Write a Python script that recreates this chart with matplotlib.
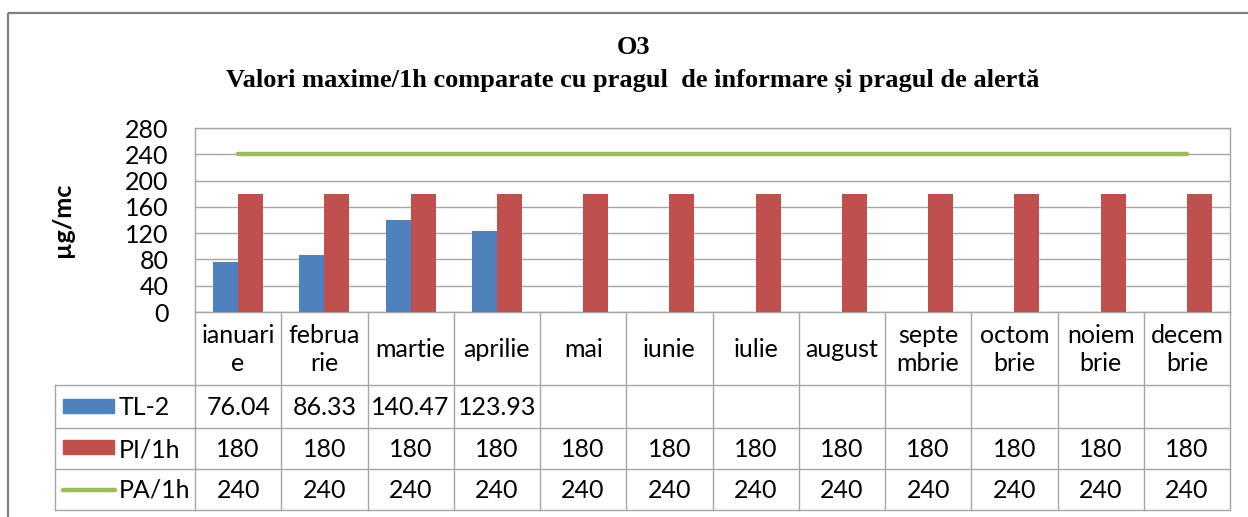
import matplotlib.pyplot as plt
import matplotlib.transforms as mtransforms
from matplotlib.patches import Rectangle
import numpy as np

# ----- Data -----
months = ["ianuari\ne", "februa\nrie", "martie", "aprilie", "mai", "iunie",
          "iulie", "august", "septe\nmbrie", "octom\nbrie", "noiem\nbrie", "decem\nbrie"]
tl2 = [76.04, 86.33, 140.47, 123.93]          # measured only Jan-Apr
pi_1h = [180] * 12                              # prag de informare
pa_1h = [240] * 12                              # prag de alerta
series_names = ["TL-2", "PI/1h", "PA/1h"]
y_ticks = [0, 40, 80, 120, 160, 200, 240, 280]

# ----- Style / layout (pixels) -----
W, H = 1248, 517
BLUE, RED, GREEN = "#4F81BD", "#C0504D", "#9BBB59"
LINE = "#A6A6A6"
SANS = ["Lato", "DejaVu Sans"]
SERIF = ["Liberation Serif", "DejaVu Serif"]
P_LEFT, P_RIGHT, P_TOP, P_BOT = 195, 1230, 128, 312
ROWS = [312, 385, 428, 469, 510]
LEG_LEFT = 55
FS = 18

fig = plt.figure(figsize=(W / 100, H / 100), dpi=100)

# pixel-space overlay for frame, title and table
pix = fig.add_axes([0, 0, 1, 1])
pix.set_xlim(0, W)
pix.set_ylim(H, 0)
pix.axis("off")
pix.add_patch(Rectangle((8, 13), W, H, fill=False, ec="#808080", lw=1.6))

pix.text(633, 48, "O3", ha="center", va="center", fontsize=19,
         fontweight="bold", family=SERIF)
pix.text(633, 81, "Valori maxime/1h comparate cu pragul  de informare și pragul de alertă",
         ha="center", va="center", fontsize=19, fontweight="bold", family=SERIF)
pix.text(62, (P_TOP + P_BOT) / 2, "µg/mc", rotation=90, ha="center", va="center",
         fontsize=18, fontweight="bold", family=SANS)

# ----- Plot area -----
ax = fig.add_axes([P_LEFT / W, 1 - P_BOT / H, (P_RIGHT - P_LEFT) / W, (P_BOT - P_TOP) / H])
x = np.arange(len(months))
bw = 0.29
ax.bar(x[:len(tl2)] - bw / 2, tl2, width=bw, color=BLUE, zorder=3)
ax.bar(x + bw / 2, pi_1h, width=bw, color=RED, zorder=3)
ax.plot(x, pa_1h, color=GREEN, lw=3.2, solid_capstyle="round", zorder=4)
ax.set_xlim(-0.5, len(months) - 0.5)
ax.set_ylim(0, 280)
ax.set_yticks(y_ticks)
ax.set_xticks([])
ax.yaxis.grid(True, color=LINE, lw=1.0, zorder=0)
ax.set_axisbelow(True)
for s in ax.spines.values():
    s.set_color(LINE)
    s.set_linewidth(1.0)
ax.tick_params(axis="y", length=0, pad=19, labelsize=FS)
for lab in ax.get_yticklabels():
    lab.set_family(SANS)

# ----- Data table -----
tr = mtransforms.blended_transform_factory(ax.transData, pix.transData)
kw_line = dict(color=LINE, lw=1.0, clip_on=False)
# vertical lines between categories
for b in np.arange(len(months) + 1) - 0.5:
    pix.plot([b, b], [ROWS[0], ROWS[-1]], transform=tr, **kw_line)
# horizontal lines
for r in ROWS[1:]:
    pix.plot([LEG_LEFT, P_LEFT], [r, r], **kw_line)
    pix.plot([-0.5, len(months) - 0.5], [r, r], transform=tr, **kw_line)
pix.plot([LEG_LEFT, LEG_LEFT], [ROWS[1], ROWS[-1]], **kw_line)

cat_mid = (ROWS[0] + ROWS[1]) / 2
for i, m in enumerate(months):
    pix.text(i, cat_mid + 1, m, transform=tr, ha="center", va="center",
             fontsize=FS, family=SANS, linespacing=1.3)

row_vals = [[f"{v:.2f}" for v in tl2], [str(v) for v in pi_1h], [str(v) for v in pa_1h]]
for k, vals in enumerate(row_vals):
    mid = (ROWS[k + 1] + ROWS[k + 2]) / 2
    for i, t in enumerate(vals):
        pix.text(i, mid + 1, t, transform=tr, ha="center", va="center",
                 fontsize=FS, family=SANS)
    pix.text(119, mid + 1, series_names[k], ha="left", va="center",
             fontsize=FS, family=SANS)

# legend keys
pix.add_patch(Rectangle((63, 399), 51, 14, color=BLUE))
pix.add_patch(Rectangle((63, 440), 51, 14, color=RED))
pix.plot([63, 115], [490, 490], color=GREEN, lw=3.2, solid_capstyle="round")

fig.savefig("out.png", dpi=100)
